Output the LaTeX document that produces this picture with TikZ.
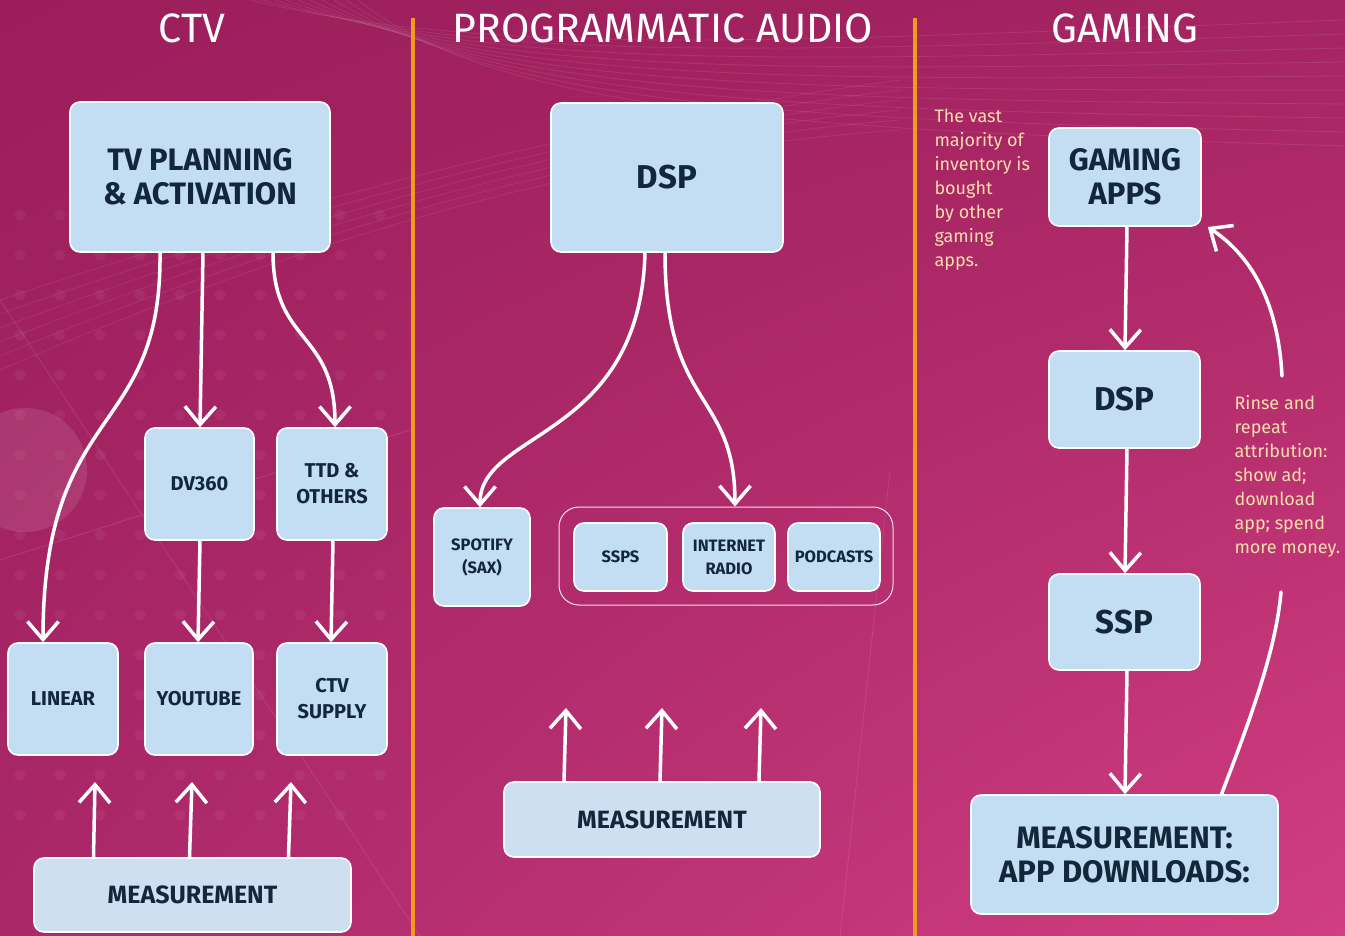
\documentclass[tikz,border=0pt]{standalone}
\usepackage{fontspec}
\setmainfont{Fira Sans}
\usetikzlibrary{arrows.meta,calc,shadings}
\definecolor{bgTL}{HTML}{9B1E5B}
\definecolor{bgTR}{HTML}{A52462}
\definecolor{bgBL}{HTML}{AA2868}
\definecolor{bgBR}{HTML}{D13E82}
\definecolor{boxblue}{HTML}{C3DDF2}
\definecolor{measblue}{HTML}{CFDFF2}
\definecolor{ink}{HTML}{13263A}
\definecolor{divider}{HTML}{F29A1E}
\definecolor{cream}{HTML}{F6DFA9}
\tikzset{
  box/.style={rounded corners=10pt, fill=boxblue, draw=white, line width=1.6pt,
    text=ink, align=center, inner sep=0pt},
  measbox/.style={box, fill=measblue},
  flow/.style={draw=white, line width=3.5pt, line cap=round,
    -{Straight Barb[length=18pt,width=31pt]}},
  plainflow/.style={draw=white, line width=3.5pt, line cap=round},
  heading/.style={text=white, font=\fontsize{41}{44}\selectfont},
  note/.style={text=cream, align=left, anchor=north west,
    font=\fontsize{18}{24}\selectfont},
  divline/.style={draw=divider, line width=4pt},
  big/.style={font=\fontsize{31}{34}\selectfont\bfseries},
  huge/.style={font=\fontsize{33}{36}\selectfont\bfseries},
  measfont/.style={font=\fontsize{25}{28}\selectfont\bfseries},
  mid/.style={font=\fontsize{20}{26}\selectfont\bfseries},
  small/.style={font=\fontsize{16.5}{23}\selectfont\bfseries},
}
\begin{document}
\begin{tikzpicture}[x=1pt,y=-1pt]
\useasboundingbox (0,0) rectangle (1345,936);
% backdrop
\shade[upper left=bgTL, upper right=bgTR, lower left=bgBL, lower right=bgBR]
  (0,0) rectangle (1345,936);
% faint sweeping strands along the top
\foreach \k in {0,...,9}{
  \draw[white, opacity=0.09, line width=0.8pt]
    (250+12*\k,0) .. controls (500,60+6*\k) and (800,40+10*\k) .. (1345,20+14*\k);
}
\foreach \k in {0,...,5}{
  \draw[white, opacity=0.08, line width=0.8pt]
    (0,300+14*\k) .. controls (300,200+8*\k) and (600,120+6*\k) .. (900,80+10*\k);
}
% faint dot grid on the left
\foreach \xx in {20,60,...,400}{
  \foreach \yy in {215,255,...,820}{
    \fill[white, opacity=0.05] (\xx,\yy) circle (5.5);
  }
}
\fill[white, opacity=0.10] (25,470) circle (62);
\draw[white, opacity=0.12, line width=0.8pt] (0,560) -- (410,430);
\draw[white, opacity=0.10, line width=0.8pt] (0,300) -- (420,936);
\draw[white, opacity=0.10, line width=0.8pt] (890,470) -- (840,936);

% column dividers
\draw[divline] (413,18) -- (413,936);
\draw[divline] (915,18) -- (915,936);

% headings
\node[heading] (hctv) at (192,28) {CTV};
\node[heading] (haudio) at (663,28) {PROGRAMMATIC AUDIO};
\node[heading] (hgame) at (1125,28) {GAMING};

% ---------- CTV ----------
\node[box, big, minimum width=260, minimum height=150] (tv) at (200,177)
  {TV PLANNING\\\& ACTIVATION};
\node[box, mid, minimum width=109, minimum height=112] (dv) at (199.5,484) {DV360};
\node[box, mid, minimum width=110, minimum height=112] (ttd) at (332,484) {TTD \&\\OTHERS};
\node[box, mid, minimum width=110, minimum height=112] (linear) at (63,699) {LINEAR};
\node[box, mid, minimum width=108, minimum height=112] (yt) at (199,699) {YOUTUBE};
\node[box, mid, minimum width=110, minimum height=112] (ctvs) at (332,699) {CTV\\SUPPLY};
\node[measbox, measfont, minimum width=317, minimum height=74]
  (m1) at (192.5,895) {MEASUREMENT};

\draw[flow] ($(tv.south)+(-40,0)$) .. controls (162,440) and (43,400) .. ($(linear.north)+(-20,0)$);
\draw[flow] ($(tv.south)+(3,0)$) -- ($(dv.north)+(0.5,0)$);
\draw[flow] ($(tv.south)+(73,0)$) .. controls (273,345) and (335,330) .. ($(ttd.north)+(3,0)$);
\draw[flow] ($(dv.south)+(0.5,0)$) -- ($(yt.north)+(-1,0)$);
\draw[flow] ($(ttd.south)+(1,0)$) -- ($(ctvs.north)+(-1,0)$);

\coordinate (t1) at (95,782);
\coordinate (t2) at (192,782);
\coordinate (t3) at (291,782);
\draw[flow] ($(m1.north)+(-99,0)$) -- (t1);
\draw[flow] ($(m1.north)+(-3,0)$) -- (t2);
\draw[flow] ($(m1.north)+(96,0)$) -- (t3);

% ---------- PROGRAMMATIC AUDIO ----------
\node[box, huge, minimum width=232, minimum height=149]
  (dsp1) at (667,177.5) {DSP};
\node[box, small, minimum width=96, minimum height=98] (spot) at (482,557) {SPOTIFY\\(SAX)};
\node[draw=white, draw opacity=0.85, line width=1pt, rounded corners=20pt,
  minimum width=334, minimum height=98, inner sep=0pt] (group) at (726,556) {};
\node[box, small, minimum width=93, minimum height=68] (ssps) at (620.5,557) {SSPS};
\node[box, small, minimum width=92, minimum height=68] (radio) at (729,557) {INTERNET\\RADIO};
\node[box, small, minimum width=92, minimum height=68] (pod) at (834,557) {PODCASTS};
\node[measbox, measfont, minimum width=316, minimum height=75]
  (m2) at (662,819.5) {MEASUREMENT};

\draw[flow] ($(dsp1.south)+(-22,0)$) .. controls (640,440) and (480,430) .. ($(spot.north)+(-2,0)$);
\draw[flow] ($(dsp1.south)+(-2,0)$) .. controls (665,410) and (735,390) .. ($(group.north)+(9,0)$);

\coordinate (a1) at (566,708);
\coordinate (a2) at (662,708);
\coordinate (a3) at (761,708);
\draw[flow] ($(m2.north)+(-98,0)$) -- (a1);
\draw[flow] ($(m2.north)+(-2,0)$) -- (a2);
\draw[flow] ($(m2.north)+(97,0)$) -- (a3);

% ---------- GAMING ----------
\node[note] (n1) at (931,106)
  {The vast\\majority of\\inventory is\\bought\\by other\\gaming\\apps.};
\node[box, big, minimum width=152, minimum height=98] (gapps) at (1125,177) {GAMING\\APPS};
\node[box, huge, minimum width=151, minimum height=97]
  (dsp2) at (1124.5,399.5) {DSP};
\node[box, huge, minimum width=151, minimum height=96]
  (ssp) at (1124.5,622) {SSP};
\node[box, big, minimum width=307, minimum height=119] (m3) at (1124.5,854.5)
  {MEASUREMENT:\\APP DOWNLOADS:};
\node[note] (n2) at (1231,392)
  {Rinse and\\repeat\\attribution:\\show ad;\\download\\app; spend\\more money.};

\draw[flow] ($(gapps.south)+(2,0)$) -- ($(dsp2.north)+(0.5,0)$);
\draw[flow] ($(dsp2.south)+(2.5,0)$) -- ($(ssp.north)+(0.5,0)$);
\draw[flow] ($(ssp.south)+(2.5,0)$) -- ($(m3.north)+(0.5,0)$);

\coordinate (rlow) at (1281,592);
\coordinate (rhigh) at (1282,376);
\draw[plainflow] ($(m3.north)+(97,0)$) .. controls (1250,720) and (1276,650) .. (rlow);
\draw[flow] (rhigh) .. controls (1278,300) and (1250,255) .. ($(gapps.east)+(6,50)$);
\end{tikzpicture}
\end{document}
